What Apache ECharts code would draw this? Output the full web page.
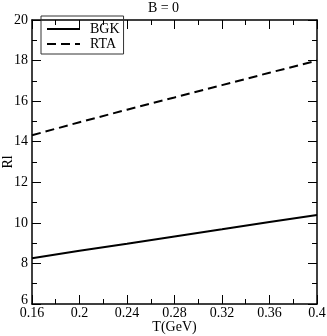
<!DOCTYPE html>
<html><head><meta charset="utf-8">
<script src="https://cdn.jsdelivr.net/npm/echarts@6/dist/echarts.min.js"></script>
<style>html,body{margin:0;padding:0;background:#fff}#c{width:327px;height:336px}</style>
</head><body><div id="c"></div>
<script>
const T = [0.16, 0.2, 0.24, 0.28, 0.32, 0.36, 0.4];
const BGK = [8.26, 8.62, 8.97, 9.33, 9.68, 10.04, 10.39];
const RTA = [14.32, 14.96, 15.58, 16.18, 16.79, 17.40, 18.0];
const xTicks = [0.16, 0.2, 0.24, 0.28, 0.32, 0.36, 0.4];
const yTicks = [6, 8, 10, 12, 14, 16, 18, 20];

const F = 'Liberation Serif';
const chart = echarts.init(document.getElementById('c'));
const axisCommon = {
  axisLine: {show: true, onZero: false, lineStyle: {color: '#000', width: 1.5}},
  axisTick: {show: true, inside: true, length: 9, lineStyle: {color: '#000', width: 1}},
  minorTick: {show: true, splitNumber: 2, length: 5, lineStyle: {color: '#000', width: 1}},
  splitLine: {show: false}
};
chart.setOption({
  animation: false,
  title: {text: 'B = 0', left: 'center', top: 1, padding: 0, textStyle: {fontFamily: F, fontSize: 14, fontWeight: 'normal', color: '#000'}},
  grid: {left: 32, right: 10, top: 20, bottom: 32, containLabel: false, outerBoundsMode: 'none'},
  legend: {
    orient: 'vertical', left: 41, top: 16, itemWidth: 33, itemHeight: 12, itemGap: 1,
    padding: [6, 4, 3, 5], borderColor: '#333', borderWidth: 1,
    itemStyle: {opacity: 0},
    textStyle: {fontFamily: F, fontSize: 14, color: '#000', padding: [0, 0, 0, 5]},
    data: ['BGK', 'RTA']
  },
  xAxis: [
    Object.assign({type: 'value', min: xTicks[0], max: xTicks[xTicks.length-1], interval: 0.04,
      name: 'T(GeV)', nameLocation: 'middle', nameGap: 16, nameMoveOverlap: false,
      nameTextStyle: {fontFamily: F, fontSize: 14, color: '#000'},
      axisLabel: {fontFamily: F, fontSize: 14, color: '#000', margin: 2,
        formatter: v => String(parseFloat(v.toFixed(2)))}}, axisCommon),
    Object.assign({type: 'value', position: 'top', min: xTicks[0], max: xTicks[xTicks.length-1], interval: 0.04,
      axisLabel: {show: false}}, axisCommon)
  ],
  yAxis: [
    Object.assign({type: 'value', min: yTicks[0], max: yTicks[yTicks.length-1], interval: 2,
      name: 'Rl', nameLocation: 'middle', nameGap: 17, nameMoveOverlap: false,
      nameTextStyle: {fontFamily: F, fontSize: 14, color: '#000'},
      axisLabel: {fontFamily: F, fontSize: 14, color: '#000', margin: 4,
        formatter: v => v === 6 ? '{b|6}' : String(v),
        rich: {b: {fontFamily: F, fontSize: 14, color: '#000', padding: [0, 0, 8, 0]}}}}, axisCommon),
    Object.assign({type: 'value', position: 'right', min: yTicks[0], max: yTicks[yTicks.length-1], interval: 2,
      axisLabel: {show: false}}, axisCommon)
  ],
  series: [
    {name: 'BGK', type: 'line', symbol: 'none', data: T.map((t, i) => [t, BGK[i]]),
      lineStyle: {color: '#000', width: 2}, itemStyle: {color: '#000'}},
    {name: 'RTA', type: 'line', symbol: 'none', data: T.map((t, i) => [t, RTA[i]]),
      lineStyle: {color: '#000', width: 2, type: [9, 5]}, itemStyle: {color: '#000'}}
  ]
});
</script></body></html>
